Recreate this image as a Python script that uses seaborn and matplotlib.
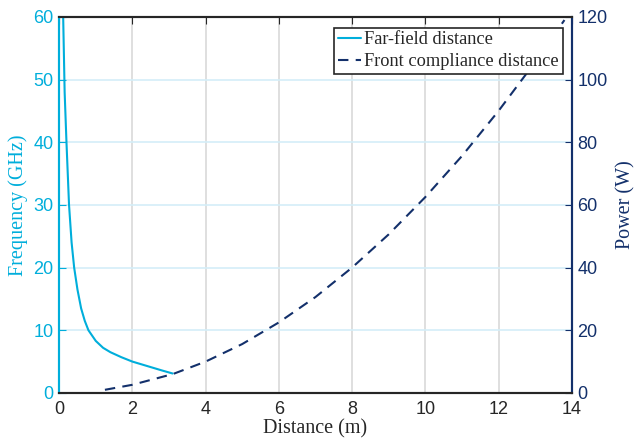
import matplotlib
matplotlib.use("Agg")
import matplotlib.pyplot as plt
import seaborn as sns
import pandas as pd

# ── data ─────────────────────────────────────────────────────
far_dist = [0.11, 0.15, 0.2, 0.27, 0.34, 0.41, 0.5, 0.6, 0.7, 0.8, 1.0, 1.2, 1.4, 1.7, 2.0, 2.4, 2.8, 3.1]
far_freq = [60, 48, 40, 30, 24, 20, 16.5, 13.5, 11.5, 10, 8.3, 7.2, 6.5, 5.7, 5.0, 4.3, 3.6, 3.1]

comp_dist = [1.25, 2, 3, 3.1, 4, 5, 6, 7, 8, 9, 10, 11, 12, 13, 13.8]
comp_power = [1.0, 2.6, 5.7, 6.0, 10, 15.6, 22.5, 30.6, 40, 50.6, 62.5, 75.6, 90, 105.6, 119]

x_ticks = [0, 2, 4, 6, 8, 10, 12, 14]
freq_ticks = [0, 10, 20, 30, 40, 50, 60]
power_ticks = [0, 20, 40, 60, 80, 100, 120]

CYAN = "#00AEDB"
NAVY = "#13306B"

far_df = pd.DataFrame({"d": far_dist, "f": far_freq})
comp_df = pd.DataFrame({"d": comp_dist, "p": comp_power})

sns.set_style("white")
plt.rcParams["font.family"] = ["Liberation Sans", "DejaVu Sans"]

fig = plt.figure(figsize=(6.36, 4.45), dpi=100)
ax = fig.add_axes([0.093, 0.117, 0.806, 0.845])
ax2 = ax.twinx()

sns.lineplot(data=far_df, x="d", y="f", ax=ax, color=CYAN, lw=1.5,
             label="Far-field distance", legend=False)
sns.lineplot(data=comp_df, x="d", y="p", ax=ax2, color=NAVY, lw=1.5,
             linestyle=(0, (5, 3.5)), label="Front compliance distance", legend=False)

ax.set_xlim(0, 14)
ax.set_ylim(0, 60)
ax2.set_ylim(0, 120)
ax.set_xticks(x_ticks)
ax.set_yticks(freq_ticks)
ax2.set_yticks(power_ticks)

# grid: vertical gray, horizontal light cyan
for xv in x_ticks[1:-1]:
    ax.axvline(xv, color="#d9d9d9", lw=1.2, zorder=0)
for yv in freq_ticks[1:-1]:
    ax.axhline(yv, color="#d4eef8", lw=1.2, zorder=0)

serif = ["Liberation Serif", "DejaVu Serif"]
ax.set_xlabel("Distance (m)", family=serif, fontsize=14.5, color="#262626", labelpad=1)
ax.set_ylabel("Frequency (GHz)", family=serif, fontsize=14.5, color=CYAN, labelpad=4)
ax2.set_ylabel("Power (W)", family=serif, fontsize=14.5, color=NAVY, labelpad=6)

ax.tick_params(axis="x", direction="in", length=5, labelsize=13, colors="#262626", top=True, pad=6)
ax.tick_params(axis="y", direction="in", length=5, labelsize=13, colors=CYAN, pad=4)
ax2.tick_params(axis="y", direction="in", length=5, labelsize=13, colors=NAVY, pad=4)

for a in (ax, ax2):
    a.spines["top"].set_color("#262626")
    a.spines["bottom"].set_color("#262626")
    a.spines["left"].set_color(CYAN)
    a.spines["right"].set_color(NAVY)
    for s in a.spines.values():
        s.set_linewidth(1.5)
        s.set_visible(True)

h1, l1 = ax.get_legend_handles_labels()
h2, l2 = ax2.get_legend_handles_labels()
leg = ax2.legend(h1 + h2, l1 + l2, loc="upper right", bbox_to_anchor=(0.982, 0.971),
                 prop={"family": serif, "size": 13.2}, frameon=True, fancybox=False,
                 framealpha=1, borderpad=0.2, handlelength=1.3, handletextpad=0.15,
                 labelspacing=0.25, borderaxespad=0)
leg.get_frame().set_edgecolor("#262626")
leg.get_frame().set_linewidth(1.2)

fig.savefig("out.png", dpi=100)
